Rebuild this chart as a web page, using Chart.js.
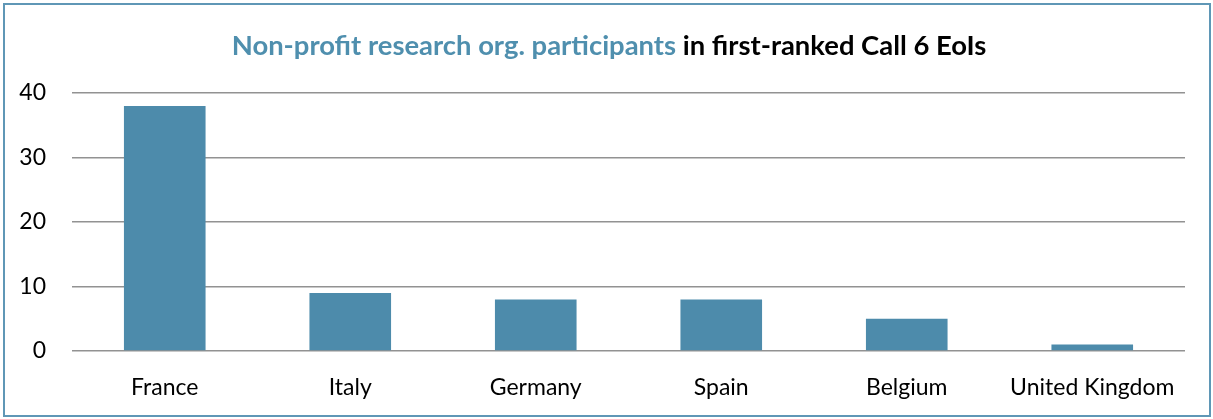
<!DOCTYPE html>
<html>
<head>
<meta charset="utf-8">
<script src="https://cdn.jsdelivr.net/npm/chart.js@4"></script>
<style>
  html, body { margin: 0; padding: 0; background: #fff; }
  #wrap { position: relative; width: 1213px; height: 419px; }
  #frame { position: absolute; left: 3px; top: 3px; width: 1204px; height: 410px; border: 2px solid #5f97b6; pointer-events: none; }
</style>
</head>
<body>
<div id="wrap">
  <canvas id="chart" width="1213" height="419"></canvas>
  <div id="frame"></div>
</div>
<script>
'use strict';

const countries = ['France', 'Italy', 'Germany', 'Spain', 'Belgium', 'United Kingdom'];
const participants = [38, 9, 8, 8, 5, 1];
const yTicks = [0, 10, 20, 30, 40];
const titleBlue = 'Non-profit research org. participants';
const titleBlack = ' in first-ranked Call 6 EoIs';

const barColor = '#4d8bab';
const fontFamily = "Lato, 'Open Sans', sans-serif";

// two-coloured title, centred over the chart, sized to the reference width
const titlePlugin = {
  id: 'twoTone',
  afterDraw(chart) {
    let ctx = chart.ctx;
    ctx.save();
    ctx.font = `bold 20px ${fontFamily}`;
    let full = ctx.measureText(titleBlue + titleBlack).width;
    let size = 20 * 755 / full;
    ctx.font = `bold ${size}px ${fontFamily}`;
    ctx.textBaseline = 'middle';
    let w1 = ctx.measureText(titleBlue).width;
    let w2 = ctx.measureText(titleBlack).width;
    let x = 609 - (w1 + w2) / 2;
    ctx.fillStyle = '#4f8fae';
    ctx.fillText(titleBlue, x, 46);
    ctx.fillStyle = '#000';
    ctx.fillText(titleBlack, x + w1, 46);
    ctx.restore();
  }
};

var ctx = document.getElementById('chart');
var myChart = new Chart(ctx, {
  type: 'bar',
  data: {
    labels: countries,
    datasets: [{
      data: participants,
      backgroundColor: barColor,
      barPercentage: 0.44,
      categoryPercentage: 1
    }]
  },
  options: {
    responsive: false,
    animation: false,
    layout: { padding: { top: 93, right: 28, left: 0, bottom: 0 } },
    plugins: {
      legend: { display: false },
      tooltip: { enabled: false },
      title: { display: false }
    },
    scales: {
      x: {
        grid: { display: false },
        border: { display: false },
        ticks: { color: '#000', font: { family: fontFamily, size: 23 }, padding: 15 },
        afterFit(scale) { scale.height = 68; }
      },
      y: {
        min: 0,
        max: 40,
        afterBuildTicks(scale) { scale.ticks = yTicks.map(v => ({ value: v })); },
        grid: { color: '#929292', lineWidth: 1.5, drawTicks: false },
        border: { display: false },
        ticks: { color: '#000', font: { family: fontFamily, size: 23 }, padding: 26 },
        afterFit(scale) { scale.width = 72; }
      }
    }
  },
  plugins: [titlePlugin]
});
</script>
</body>
</html>
